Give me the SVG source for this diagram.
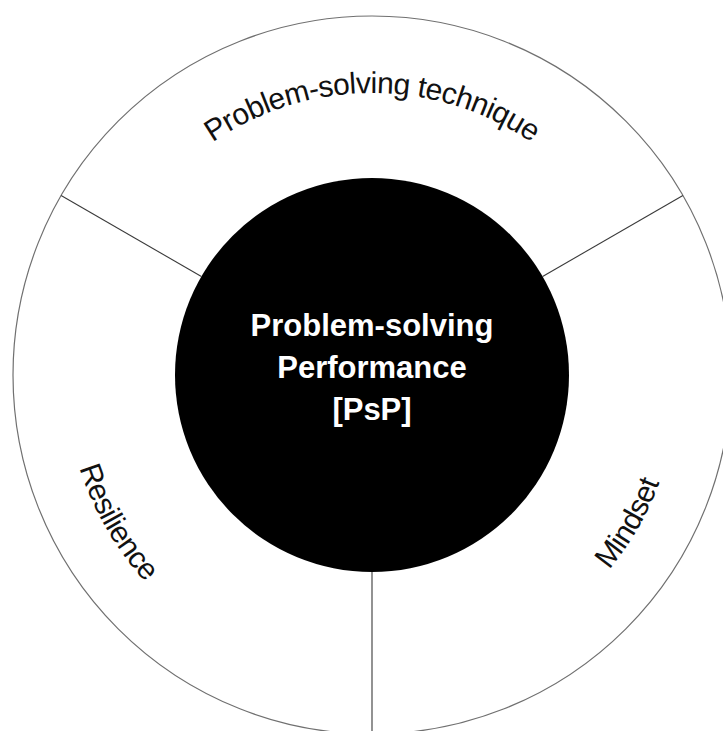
<svg xmlns="http://www.w3.org/2000/svg" width="723" height="731" viewBox="0 0 723 731">
  <style>
    .ring { fill: #ffffff; stroke: #707070; stroke-width: 1.2; }
    .divider { stroke: #3a3a3a; stroke-width: 1.1; fill: none; }
    .core { fill: #000000; }
    .label { font-family: "Liberation Sans", Arial, sans-serif; font-size: 30px; letter-spacing: -0.6px; fill: #111111; }
    .title { font-family: "Liberation Sans", Arial, sans-serif; font-size: 31px; font-weight: bold; fill: #ffffff; text-anchor: middle; }
  </style>
  <defs>
    <path id="arcTop" d="M127.8,234 A282,282 0 0 1 616.2,234"/>
    <path id="arcLeft" d="M83.5,270 A307,307 0 0 0 318.7,677.3"/>
    <path id="arcRight" d="M425.3,677.3 A307,307 0 0 0 660.5,270"/>
  </defs>
  <rect width="723" height="731" fill="#ffffff"/>
  <g id="ring">
    <circle class="ring" cx="372" cy="375" r="359"/>
  </g>
  <g id="connectors">
    <line class="divider" x1="201.4" y1="276.5" x2="61.1" y2="195.5"/>
    <line class="divider" x1="542.6" y1="276.5" x2="682.9" y2="195.5"/>
    <line class="divider" x1="372" y1="572" x2="372" y2="734"/>
  </g>
  <g id="segment-technique">
    <text class="label"><textPath href="#arcTop" startOffset="50%" text-anchor="middle">Problem-solving technique</textPath></text>
  </g>
  <g id="segment-resilience">
    <text class="label"><textPath href="#arcLeft" startOffset="50%" text-anchor="middle">Resilience</textPath></text>
  </g>
  <g id="segment-mindset">
    <text class="label"><textPath href="#arcRight" startOffset="50%" text-anchor="middle">Mindset</textPath></text>
  </g>
  <g id="center-psp">
    <circle class="core" cx="372" cy="375" r="197"/>
    <text class="title" x="372" y="336">Problem-solving</text>
    <text class="title" x="372" y="378">Performance</text>
    <text class="title" x="372" y="420">[PsP]</text>
  </g>
</svg>
